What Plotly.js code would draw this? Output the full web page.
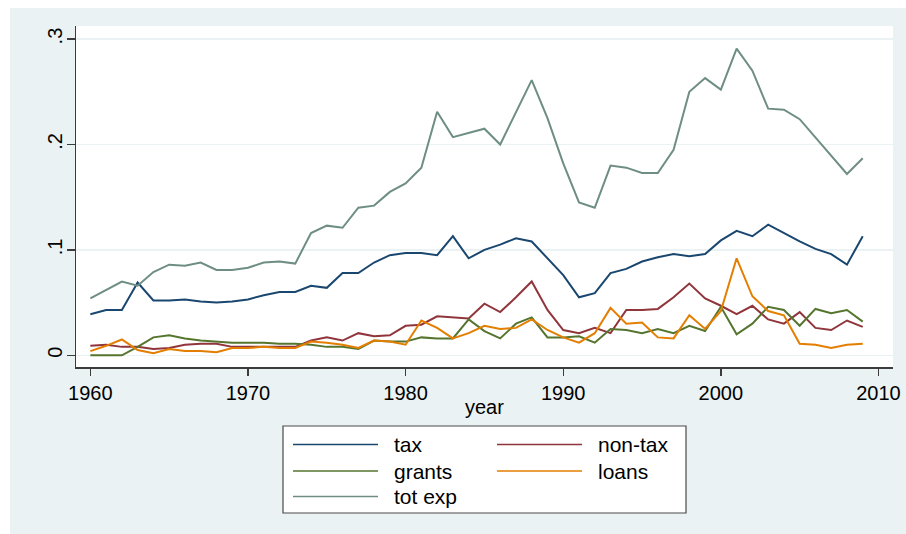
<!DOCTYPE html>
<html>
<head>
<meta charset="utf-8">
<script src="https://cdn.plot.ly/plotly-3.0.1.min.js"></script>
<style>html,body{margin:0;padding:0;background:#fff;}#chart{width:906px;height:534px;}</style>
</head>
<body>
<div id="chart"></div>
<script>
var years = [1960,1961,1962,1963,1964,1965,1966,1967,1968,1969,
             1970,1971,1972,1973,1974,1975,1976,1977,1978,1979,
             1980,1981,1982,1983,1984,1985,1986,1987,1988,1989,
             1990,1991,1992,1993,1994,1995,1996,1997,1998,1999,
             2000,2001,2002,2003,2004,2005,2006,2007,2008,2009];

var tax = [0.039,0.043,0.043,0.069,0.052,0.052,0.053,0.051,0.050,0.051,
           0.053,0.057,0.060,0.060,0.066,0.064,0.078,0.078,0.088,0.095,
           0.097,0.097,0.095,0.113,0.092,0.100,0.105,0.111,0.108,0.092,
           0.076,0.055,0.059,0.078,0.082,0.089,0.093,0.096,0.094,0.096,
           0.109,0.118,0.113,0.124,0.116,0.108,0.101,0.096,0.086,0.113];

var nontax = [0.009,0.010,0.008,0.008,0.006,0.007,0.010,0.011,0.011,0.008,
              0.008,0.008,0.008,0.008,0.014,0.017,0.014,0.021,0.018,0.019,
              0.028,0.029,0.037,0.036,0.035,0.049,0.041,0.055,0.070,0.043,
              0.024,0.021,0.026,0.021,0.043,0.043,0.044,0.055,0.068,0.054,
              0.047,0.039,0.047,0.034,0.030,0.041,0.026,0.024,0.033,0.027];

var grants = [0.000,0.000,0.000,0.008,0.017,0.019,0.016,0.014,0.013,0.012,
              0.012,0.012,0.011,0.011,0.010,0.008,0.008,0.006,0.014,0.013,
              0.013,0.017,0.016,0.016,0.034,0.023,0.016,0.030,0.036,0.017,
              0.017,0.018,0.012,0.025,0.024,0.021,0.025,0.021,0.028,0.023,
              0.046,0.020,0.030,0.046,0.043,0.028,0.044,0.040,0.043,0.032];

var loans = [0.004,0.009,0.015,0.005,0.002,0.006,0.004,0.004,0.003,0.007,
             0.007,0.008,0.007,0.007,0.013,0.012,0.010,0.007,0.014,0.013,
             0.010,0.033,0.026,0.016,0.021,0.028,0.025,0.026,0.034,0.024,
             0.017,0.012,0.021,0.045,0.030,0.031,0.017,0.016,0.038,0.025,
             0.042,0.092,0.056,0.042,0.038,0.011,0.010,0.007,0.010,0.011];

var totexp = [0.054,0.062,0.070,0.066,0.079,0.086,0.085,0.088,0.081,0.081,
              0.083,0.088,0.089,0.087,0.116,0.123,0.121,0.140,0.142,0.155,
              0.163,0.178,0.231,0.207,0.211,0.215,0.200,0.231,0.261,0.225,
              0.182,0.145,0.140,0.180,0.178,0.173,0.173,0.195,0.250,0.263,
              0.252,0.291,0.270,0.234,0.233,0.224,0.207,0.190,0.172,0.187];

var seriesNames = ["tax", "non-tax", "grants", "loans", "tot exp"];
var seriesColors = ["#1a476f", "#90353b", "#55752f", "#e37e00", "#6e8e84"];
var seriesValues = [tax, nontax, grants, loans, totexp];

var xTickVals = [1960, 1970, 1980, 1990, 2000, 2010];
var xTickText = ["1960", "1970", "1980", "1990", "2000", "2010"];
var yTickVals = [0, 0.1, 0.2, 0.3];
var yTickText = ["0", ".1", ".2", ".3"];
var xTitle = "year";

var FONT = "Liberation Sans, Arial, Helvetica, sans-serif";
var W = 906, H = 534;
var M = {l: 76, r: 13, t: 26, b: 167};
var plotW = W - M.l - M.r, plotH = H - M.t - M.b;
function px(x) { return (x - M.l) / plotW; }
function py(y) { return (H - M.b - y) / plotH; }

var traces = seriesNames.map(function (name, i) {
  return {
    x: years, y: seriesValues[i], name: name, type: "scatter", mode: "lines",
    line: {color: seriesColors[i], width: 2}, showlegend: false
  };
});

var shapes = [];
var annotations = [];

// x axis title
annotations.push({xref: "paper", yref: "paper", x: 0.5, y: py(407),
  xanchor: "center", yanchor: "middle", showarrow: false, text: xTitle,
  font: {family: FONT, size: 20, color: "#000"}});

// legend box
shapes.push({type: "rect", xref: "paper", yref: "paper",
  x0: px(283), x1: px(686), y0: py(513), y1: py(426),
  line: {color: "#4a4a4a", width: 1.2}, fillcolor: "#ffffff", layer: "above"});

var legendPos = [
  {row: 444.5, col: 0}, {row: 444.5, col: 1},
  {row: 471, col: 0}, {row: 471, col: 1},
  {row: 496.5, col: 0}
];
var colSwatch = [[293, 378], [497, 582]];
var colText = [392, 596];
legendPos.forEach(function (p, i) {
  shapes.push({type: "line", xref: "paper", yref: "paper",
    x0: px(colSwatch[p.col][0]), x1: px(colSwatch[p.col][1]),
    y0: py(p.row), y1: py(p.row),
    line: {color: seriesColors[i], width: 1.6}, layer: "above"});
  annotations.push({xref: "paper", yref: "paper", x: px(colText[p.col]), y: py(p.row),
    xanchor: "left", yanchor: "middle", showarrow: false, text: seriesNames[i],
    font: {family: FONT, size: 21, color: "#000"}});
});

// thin white frame around graph region
shapes.push({type: "rect", xref: "paper", yref: "paper", x0: px(0), x1: px(10), y0: py(H), y1: py(0), fillcolor: "#fff", line: {width: 0}, layer: "above"});
shapes.push({type: "rect", xref: "paper", yref: "paper", x0: px(0), x1: px(W), y0: py(8), y1: py(0), fillcolor: "#fff", line: {width: 0}, layer: "above"});

var layout = {
  width: W, height: H,
  margin: M,
  paper_bgcolor: "#eaf2f3",
  plot_bgcolor: "#ffffff",
  font: {family: FONT, color: "#000"},
  showlegend: false,
  xaxis: {
    range: [1959.09, 2010.92],
    tickvals: xTickVals, ticktext: xTickText,
    ticks: "outside", ticklen: 7, tickwidth: 1.3, tickcolor: "#3c3c3c",
    showline: true, linecolor: "#3c3c3c", linewidth: 1.5,
    showgrid: false, zeroline: false,
    tickfont: {family: FONT, size: 20, color: "#000"},
    automargin: false
  },
  yaxis: {
    range: [-0.0111, 0.3124],
    tickvals: yTickVals, ticktext: yTickText,
    tickangle: -90,
    ticklabelstandoff: -3,
    ticks: "outside", ticklen: 8, tickwidth: 1.3, tickcolor: "#3c3c3c",
    showline: true, linecolor: "#3c3c3c", linewidth: 1.5,
    showgrid: true, gridcolor: "#eaf2f3", gridwidth: 1.5, zeroline: false,
    tickfont: {family: FONT, size: 20, color: "#000"},
    automargin: false
  },
  shapes: shapes,
  annotations: annotations
};

Plotly.newPlot("chart", traces, layout, {displayModeBar: false, staticPlot: true});
</script>
</body>
</html>
